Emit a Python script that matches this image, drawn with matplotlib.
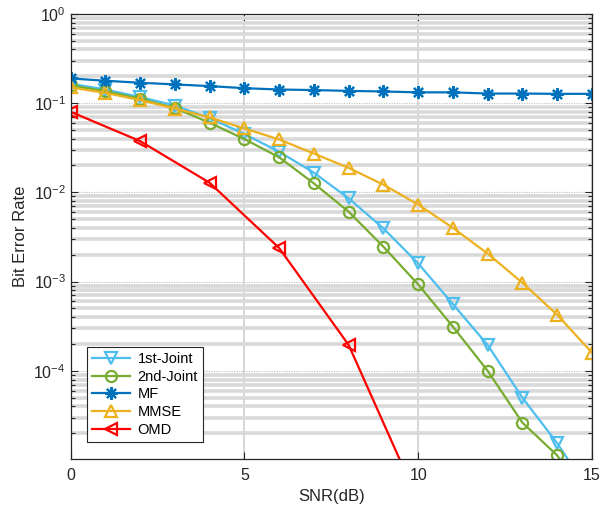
import matplotlib
matplotlib.use("Agg")
import matplotlib.pyplot as plt
import numpy as np
from matplotlib.ticker import LogLocator, NullFormatter, FixedLocator

plt.rcParams['font.family'] = ['Liberation Sans', 'DejaVu Sans']
plt.rcParams['mathtext.fontset'] = 'custom'
plt.rcParams['mathtext.rm'] = 'Liberation Sans'
plt.rcParams['mathtext.it'] = 'Liberation Sans'

snr = list(range(0, 16))
snr_omd = [0, 2, 4, 6, 8, 10]

ber_joint1 = [0.165, 0.142, 0.117, 0.094, 0.068, 0.045, 0.0285, 0.0166, 0.00857,
              0.00395, 0.0016, 5.6e-4, 1.95e-4, 5.0e-5, 1.55e-5, 4.0e-6]
ber_joint2 = [0.158, 0.136, 0.112, 0.088, 0.0602, 0.0395, 0.0247, 0.0126, 0.00607,
              0.00246, 9.3e-4, 3.13e-4, 1.0e-4, 2.63e-5, 1.13e-5, 3.0e-6]
ber_mf = [0.189, 0.178, 0.169, 0.162, 0.155, 0.147, 0.142, 0.140, 0.137, 0.135,
          0.132, 0.132, 0.128, 0.128, 0.127, 0.127]
ber_mmse = [0.150, 0.130, 0.108, 0.087, 0.069, 0.052, 0.0392, 0.0272, 0.0188,
            0.0122, 0.0073, 0.0040, 0.00206, 9.7e-4, 4.25e-4, 1.6e-4]
ber_omd = [0.0799, 0.0375, 0.0128, 0.00238, 1.95e-4, 3.5e-6]

labels = ['1st-Joint', '2nd-Joint', 'MF', 'MMSE', 'OMD']
colors = ['#4DBEEE', '#77AC30', '#0072BD', '#EDB120', '#FF0000']

fig = plt.figure(figsize=(6.04, 5.13), dpi=100)
ax = fig.add_axes([0.117, 0.106, 0.863, 0.867])

ax.set_yscale('log')
ax.set_xlim(0, 15)
ax.set_ylim(1.04e-5, 1)

# grids
ax.yaxis.set_major_locator(LogLocator(base=10, numticks=10))
ax.yaxis.set_minor_locator(LogLocator(base=10, subs=np.arange(2, 10), numticks=20))
ax.yaxis.set_minor_formatter(NullFormatter())
ax.xaxis.set_major_locator(FixedLocator([0, 5, 10, 15]))
ax.grid(which='minor', axis='y', color='#d9d9d9', linewidth=2.6, zorder=0)
ax.grid(which='major', axis='y', color='#c8c8c8', linewidth=0.9, linestyle=(0, (1, 1)), zorder=0)
ax.grid(which='major', axis='x', color='#cfcfcf', linewidth=1.2, zorder=0)
ax.set_axisbelow(True)

lw = 1.6
ax.plot(snr, ber_joint1, color=colors[0], lw=lw, marker='v', ms=8.5, mfc='none', mew=1.6, label=labels[0])
ax.plot(snr, ber_joint2, color=colors[1], lw=lw, marker='o', ms=8, mfc='none', mew=1.6, label=labels[1])
ax.plot(snr, ber_mf, color=colors[2], lw=lw, marker=(8, 2, 0), ms=9, mew=1.6, label=labels[2])
ax.plot(snr, ber_mmse, color=colors[3], lw=lw, marker='^', ms=8.5, mfc='none', mew=1.6, label=labels[3])
ax.plot(snr_omd, ber_omd, color=colors[4], lw=lw, marker='<', ms=8.5, mfc='none', mew=1.6, label=labels[4])

for s in ax.spines.values():
    s.set_color('#262626')
    s.set_linewidth(0.9)
ax.tick_params(which='both', direction='in', top=True, right=True, colors='#262626',
               labelsize=11.5, labelcolor='#262626')
ax.tick_params(which='major', length=5, width=0.8)
ax.tick_params(which='minor', length=3, width=0.8)
ax.tick_params(axis='x', pad=7)

ax.set_xlabel('SNR(dB)', fontsize=12, color='#262626', labelpad=4)
ax.set_ylabel('Bit Error Rate', fontsize=12, color='#262626', labelpad=4)

leg = ax.legend(loc='lower left', bbox_to_anchor=(0.032, 0.038), fontsize=10.5,
                frameon=True, fancybox=False, edgecolor='#262626', framealpha=1,
                handlelength=2.6, borderpad=0.35, labelspacing=0.25, handletextpad=0.5,
                borderaxespad=0)
leg.get_frame().set_linewidth(0.8)

fig.savefig('out.png', dpi=100)
